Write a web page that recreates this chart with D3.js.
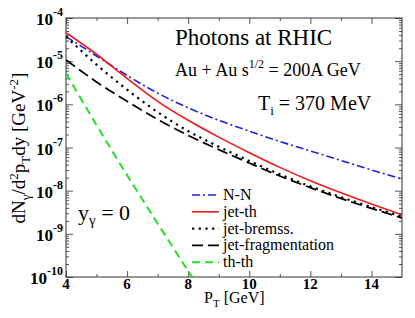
<!DOCTYPE html>
<html>
<head>
<meta charset="utf-8">
<script src="https://cdn.jsdelivr.net/npm/d3@7"></script>
<style>
body { margin: 0; background: #fff; font-family: 'Liberation Serif'; }
svg { font-family: 'Liberation Serif'; }
#fontwarm { position: absolute; left: -2000px; top: 0; font-family: 'Liberation Serif'; }
</style>
</head>
<body>
<div id="fontwarm">Photons <b>10</b></div>
<div id="chart"></div>
<script>
// data (log10 of dN/d2pTdy)
var pt = [4, 5, 6, 7, 8, 9, 10, 11, 12, 13, 14, 15];
var nn = [-4.43, -4.88, -5.33, -5.74, -6.08, -6.37, -6.62, -6.86, -7.08, -7.30, -7.52, -7.73];
var jetTh = [-4.34, -4.84, -5.40, -5.93, -6.37, -6.76, -7.12, -7.46, -7.77, -8.05, -8.31, -8.56];
var jetBrems = [-4.43, -5.08, -5.66, -6.18, -6.62, -6.98, -7.31, -7.62, -7.90, -8.15, -8.38, -8.60];
var jetFrag = [-4.97, -5.48, -5.93, -6.35, -6.72, -7.05, -7.36, -7.66, -7.93, -8.18, -8.41, -8.63];
var ptTh = [4, 5, 6, 7, 8, 8.5];
var thTh = [-5.28, -6.48, -7.64, -8.76, -9.86, -10.4];
var xTicks = [4, 6, 8, 10, 12, 14];
var yDecades = [-10, -9, -8, -7, -6, -5, -4];
var legendNames = ["N-N", "jet-th", "jet-bremss.", "jet-fragmentation", "th-th"];

var W = 415, H = 318;
var margin = {top: 18, right: 13, bottom: 41, left: 66};
var width = W - margin.left - margin.right,
    height = H - margin.top - margin.bottom;

var svg = d3.select("#chart").append("svg")
  .attr("width", W).attr("height", H)
  .style("font-family", "'Liberation Serif'");

var g = svg.append("g")
  .attr("transform", "translate(" + margin.left + "," + margin.top + ")");

var x = d3.scaleLinear().domain([4, 15]).range([0, width]);
var y = d3.scaleLog().domain([1e-10, 1e-4]).range([height, 0]);

// clip
svg.append("defs").append("clipPath").attr("id", "clip")
  .append("rect").attr("width", width).attr("height", height);

// minor ticks
var xMinor = d3.range(5, 15, 2);
var yMinor = [];
yDecades.slice(0, -1).forEach(function(d) {
  for (var k = 2; k <= 9; k++) yMinor.push(k * Math.pow(10, d));
});

var tickCol = "#555";
function clean(a) {
  a.select(".domain").remove();
  a.selectAll("line").attr("stroke", tickCol);
}
// bottom/top
g.append("g").attr("transform", "translate(0," + height + ")")
  .call(d3.axisBottom(x).tickValues(xTicks).tickSize(-6).tickFormat("")).call(clean);
g.append("g").attr("transform", "translate(0," + height + ")")
  .call(d3.axisBottom(x).tickValues(xMinor).tickSize(-3).tickFormat("")).call(clean);
g.append("g")
  .call(d3.axisTop(x).tickValues(xTicks).tickSize(-6).tickFormat("")).call(clean);
g.append("g")
  .call(d3.axisTop(x).tickValues(xMinor).tickSize(-3).tickFormat("")).call(clean);
// left/right
var yMajorVals = yDecades.map(function(d) { return Math.pow(10, d); });
[[d3.axisLeft, 0], [d3.axisRight, width]].forEach(function(p) {
  g.append("g").attr("transform", "translate(" + p[1] + ",0)")
    .call(p[0](y).tickValues(yMajorVals).tickSize(-7).tickFormat("")).call(clean);
  g.append("g").attr("transform", "translate(" + p[1] + ",0)")
    .call(p[0](y).tickValues(yMinor).tickSize(-3).tickFormat("")).call(clean);
});

// frame
g.append("rect").attr("width", width).attr("height", height)
  .attr("fill", "none").attr("stroke", "#333").attr("stroke-width", 1);

function txt(parent, xx, yy, size) {
  return parent.append("text").attr("x", xx).attr("y", yy)
    .style("font-family", "'Liberation Serif'").attr("font-size", size);
}

// x tick labels
xTicks.forEach(function(d) {
  txt(g, x(d), height + 12, 15)
    .attr("text-anchor", "middle").attr("font-weight", "bold").text(d);
});

// y tick labels
yDecades.forEach(function(d) {
  var t = txt(g, -3, y(Math.pow(10, d)) + 7, 17)
    .attr("text-anchor", "end").attr("font-weight", "bold");
  t.append("tspan").text("10");
  t.append("tspan").attr("font-size", 12).attr("dy", -9).text(d);
});

// curves
var line = d3.line()
  .x(function(d) { return x(d[0]); })
  .y(function(d) { return y(Math.pow(10, d[1])); })
  .curve(d3.curveMonotoneX);

var series = [
  {vals: nn, pts: pt, color: "#1f1fe0", dash: "8,3,2,3", w: 1.6},
  {vals: jetTh, pts: pt, color: "#f01a1a", dash: null, w: 1.6},
  {vals: jetBrems, pts: pt, color: "#000", dash: "2.2,4.5", w: 2.2},
  {vals: jetFrag, pts: pt, color: "#000", dash: "11,5", w: 1.8},
  {vals: thTh, pts: ptTh, color: "#22e022", dash: "8,5", w: 2}
];

var curves = g.append("g").attr("clip-path", "url(#clip)");
series.forEach(function(s) {
  curves.append("path")
    .datum(s.pts.map(function(p, i) { return [p, s.vals[i]]; }))
    .attr("fill", "none")
    .attr("stroke", s.color)
    .attr("stroke-width", s.w)
    .attr("stroke-dasharray", s.dash)
    .attr("d", line);
});

// legend
var leg = g.append("g").attr("transform", "translate(126,177)");
series.forEach(function(s, i) {
  var yy = i * 16.8;
  leg.append("line").attr("x1", 0).attr("x2", 27).attr("y1", yy).attr("y2", yy)
    .attr("stroke", s.color).attr("stroke-width", s.w).attr("stroke-dasharray", s.dash);
  txt(leg, 31, yy + 5, 16).text(legendNames[i]);
});

// annotations
txt(g, 109, 27, 23).text("Photons at RHIC");
var t2 = txt(g, 109, 58, 18);
t2.append("tspan").text("Au + Au  s");
t2.append("tspan").attr("font-size", 12).attr("dy", -8).text("1/2");
t2.append("tspan").attr("dy", 8).text(" = 200A GeV");
var t3 = txt(g, 192, 92, 20);
t3.append("tspan").text("T");
t3.append("tspan").attr("font-size", 13).attr("dy", 5).text("i");
t3.append("tspan").attr("dy", -5).text(" = 370 MeV");
var t4 = txt(g, 12, 202, 22);
t4.append("tspan").text("y");
t4.append("tspan").attr("font-size", 15).attr("dy", 5).text("γ");
t4.append("tspan").attr("dy", -5).text(" = 0");

// axis titles
var xt = txt(svg, 204, 303, 16);
xt.append("tspan").text("P");
xt.append("tspan").attr("font-size", 11).attr("dy", 4).text("T");
xt.append("tspan").attr("dy", -4).text(" [GeV]");

var yt = txt(svg, 0, 0, 19)
  .attr("transform", "translate(25,148) rotate(-90)")
  .attr("text-anchor", "middle");
yt.append("tspan").text("dN");
yt.append("tspan").attr("font-size", 13).attr("dy", 5).text("γ");
yt.append("tspan").attr("dy", -5).text("/d");
yt.append("tspan").attr("font-size", 13).attr("dy", -7).text("2");
yt.append("tspan").attr("dy", 7).text("p");
yt.append("tspan").attr("font-size", 13).attr("dy", 5).text("T");
yt.append("tspan").attr("dy", -5).text("dy [GeV");
yt.append("tspan").attr("font-size", 13).attr("dy", -7).text("-2");
yt.append("tspan").attr("dy", 7).text("]");
</script>
</body>
</html>
